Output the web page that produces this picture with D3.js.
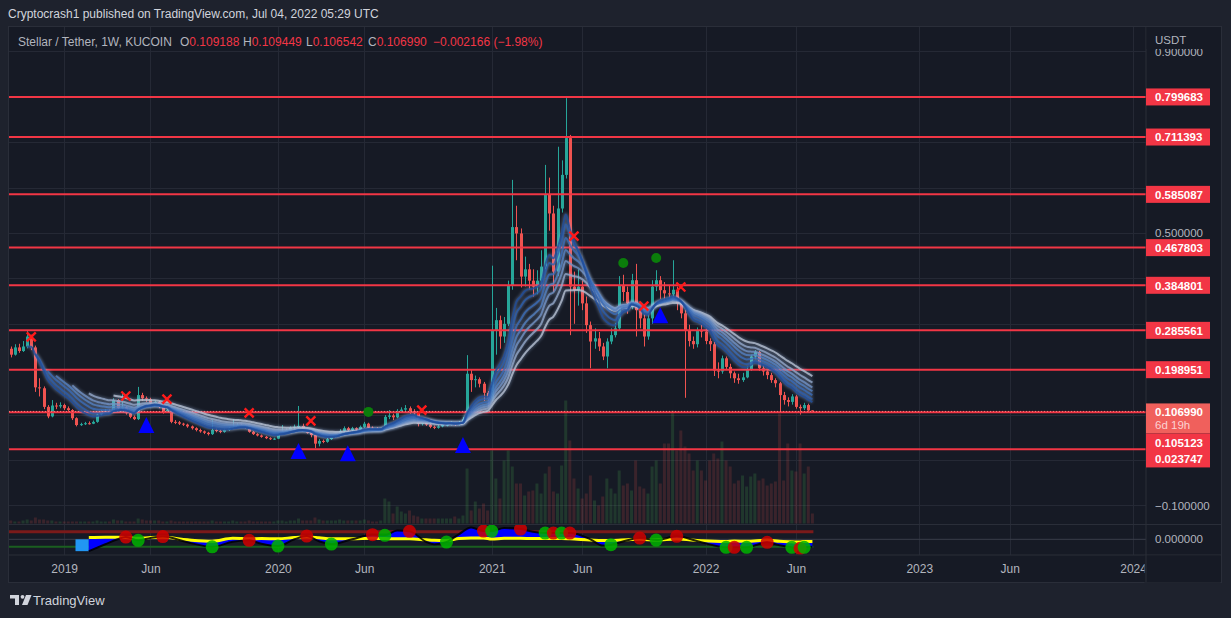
<!DOCTYPE html>
<html>
<head>
<meta charset="utf-8">
<title>Stellar / Tether, 1W, KUCOIN</title>
<script src="https://d3js.org/d3.v7.min.js"></script>
<style>
  body { margin: 0; background: #1e222d; }
  svg { display: block; font-family: "Liberation Sans", Arial, sans-serif; }
</style>
</head>
<body>
<script>
"use strict";

/* weekly candles, first bar opens Monday 2018-10-01 */
var firstWeek = "2018-10-01";
var firstOpen = 0.238;

var closes = [
  0.245,0.232,0.248,0.240,0.250,0.272,0.248,0.160,0.158,0.117,0.096,0.120,0.118,0.121,
  0.114,0.110,0.092,0.077,0.079,0.081,0.080,0.084,0.100,0.106,0.108,0.106,0.132,0.114,
  0.116,0.103,0.095,0.090,0.143,0.136,0.134,0.125,0.128,0.117,0.106,0.110,0.084,0.083,
  0.080,0.078,0.074,0.070,0.066,0.063,0.060,0.057,0.066,0.064,0.062,0.066,0.070,0.073,
  0.077,0.076,0.072,0.062,0.057,0.054,0.051,0.048,0.046,0.047,0.058,0.062,0.066,0.071,
  0.073,0.075,0.068,0.060,0.055,0.036,0.042,0.040,0.046,0.051,0.054,0.064,0.070,0.066,
  0.070,0.067,0.073,0.080,0.071,0.069,0.068,0.068,0.095,0.098,0.094,0.108,0.111,0.114,
  0.108,0.103,0.080,0.082,0.078,0.073,0.071,0.074,0.077,0.078,0.081,0.078,0.082,0.090,
  0.190,0.176,0.178,0.168,0.148,0.135,0.286,0.308,0.272,0.300,0.385,0.513,0.499,0.404,
  0.420,0.395,0.382,0.395,0.426,0.584,0.543,0.415,0.554,0.628,0.709,0.382,0.374,0.382,
  0.345,0.297,0.261,0.268,0.250,0.228,0.261,0.275,0.290,0.385,0.370,0.345,0.396,0.330,
  0.312,0.272,0.312,0.382,0.396,0.374,0.367,0.365,0.375,0.345,0.323,0.286,0.262,0.255,
  0.285,0.283,0.262,0.255,0.197,0.195,0.224,0.205,0.191,0.180,0.176,0.182,0.200,0.228,
  0.238,0.202,0.195,0.187,0.176,0.169,0.143,0.132,0.128,0.140,0.117,0.114,0.121,0.109188,
  0.106990
];

var highs = [
  0.252,0.250,0.255,0.256,0.262,0.285,0.276,0.252,0.180,0.162,0.121,0.132,0.126,0.127,
  0.124,0.118,0.112,0.094,0.082,0.084,0.085,0.087,0.103,0.110,0.112,0.111,0.136,0.134,
  0.150,0.118,0.106,0.098,0.161,0.148,0.140,0.137,0.131,0.130,0.119,0.114,0.111,0.088,
  0.086,0.082,0.080,0.076,0.072,0.069,0.065,0.062,0.088,0.070,0.067,0.069,0.073,0.090,
  0.081,0.080,0.079,0.074,0.064,0.059,0.056,0.053,0.050,0.049,0.062,0.077,0.069,0.074,
  0.078,0.119,0.080,0.070,0.063,0.058,0.046,0.045,0.049,0.054,0.058,0.068,0.074,0.073,
  0.073,0.072,0.076,0.084,0.082,0.074,0.072,0.071,0.099,0.110,0.102,0.112,0.116,0.121,
  0.118,0.112,0.105,0.086,0.084,0.080,0.076,0.077,0.080,0.083,0.085,0.083,0.086,0.095,
  0.231,0.200,0.186,0.182,0.172,0.152,0.428,0.335,0.318,0.315,0.395,0.617,0.560,0.510,
  0.448,0.432,0.420,0.418,0.462,0.650,0.622,0.560,0.690,0.660,0.797,0.716,0.415,0.420,
  0.395,0.360,0.305,0.290,0.282,0.258,0.268,0.290,0.302,0.405,0.408,0.382,0.410,0.432,
  0.345,0.322,0.325,0.396,0.418,0.405,0.392,0.385,0.440,0.382,0.352,0.330,0.298,0.272,
  0.292,0.298,0.290,0.268,0.260,0.215,0.230,0.228,0.212,0.195,0.190,0.192,0.206,0.232,
  0.242,0.240,0.208,0.200,0.192,0.180,0.172,0.150,0.138,0.145,0.143,0.122,0.126,0.124,
  0.109449
];

var lows = [
  0.232,0.226,0.230,0.236,0.238,0.246,0.242,0.150,0.140,0.112,0.092,0.094,0.112,0.114,
  0.110,0.104,0.088,0.074,0.075,0.077,0.078,0.079,0.082,0.098,0.103,0.102,0.104,0.110,
  0.110,0.100,0.092,0.088,0.088,0.130,0.128,0.121,0.122,0.114,0.102,0.104,0.081,0.079,
  0.077,0.075,0.071,0.067,0.063,0.060,0.057,0.054,0.055,0.061,0.059,0.060,0.064,0.068,
  0.071,0.073,0.069,0.060,0.055,0.052,0.049,0.046,0.044,0.044,0.046,0.057,0.060,0.064,
  0.068,0.070,0.066,0.058,0.050,0.026,0.030,0.037,0.038,0.044,0.049,0.052,0.062,0.064,
  0.064,0.064,0.065,0.071,0.069,0.066,0.065,0.066,0.067,0.090,0.088,0.092,0.104,0.108,
  0.102,0.099,0.074,0.076,0.075,0.070,0.068,0.069,0.072,0.074,0.076,0.075,0.076,0.080,
  0.088,0.150,0.160,0.160,0.130,0.118,0.130,0.232,0.245,0.258,0.295,0.375,0.440,0.380,
  0.382,0.375,0.360,0.365,0.378,0.420,0.505,0.370,0.405,0.545,0.620,0.275,0.300,0.340,
  0.330,0.280,0.202,0.245,0.240,0.220,0.202,0.255,0.270,0.285,0.350,0.322,0.332,0.272,
  0.290,0.250,0.265,0.300,0.372,0.355,0.352,0.350,0.355,0.330,0.312,0.137,0.250,0.245,
  0.248,0.270,0.255,0.240,0.185,0.180,0.190,0.198,0.180,0.170,0.168,0.172,0.180,0.196,
  0.222,0.196,0.186,0.178,0.170,0.160,0.106,0.122,0.118,0.122,0.113,0.100,0.110,0.104,
  0.106542
];

var volumes = [
  3,3,2,2,3,4,3,6,4,4,3,3,2,2,
  2,2,2,2,2,2,2,2,3,2,2,2,4,3,3,2,2,2,5,4,3,3,3,3,2,2,
  3,2,2,2,2,2,2,2,2,2,3,2,2,2,2,3,2,2,2,3,2,2,2,2,2,2,
  3,3,2,3,3,5,3,3,3,6,4,3,3,3,3,4,3,3,3,3,3,4,3,2,2,3,
  25,22,10,17,12,10,13,8,7,5,5,5,5,5,5,5,5,7,5,8,
  55,13,22,15,20,13,73,45,25,63,73,57,40,40,28,32,33,40,30,50,57,32,30,58,
  123,83,45,35,25,30,48,23,18,27,45,35,30,53,38,40,33,63,37,35,30,57,63,40,
  80,80,113,73,93,77,70,53,63,53,43,63,70,65,82,63,57,40,43,48,37,47,50,43,
  45,38,40,42,110,43,80,53,52,80,50,57,10
];

/* horizontal levels drawn on the chart */
var levels = [0.799683, 0.711393, 0.585087, 0.467803, 0.384801, 0.285561, 0.198951, 0.105123, 0.023747];
var lastPrice = 0.106990;
var lastCountdown = "6d 19h";
var priceTicks = [-0.1, 0, 0.1, 0.2, 0.3, 0.4, 0.5, 0.6, 0.7, 0.8, 0.9];

/* EMA ribbon lengths and first visible bar of each */
var ribbonLengths = [9, 11, 14, 17, 20, 24, 30];
var ribbonStart = [5, 7, 10, 12, 16, 20, 26];
var ribbonColors = ["#1f4c9a", "#2a5cac", "#3a6cb8", "#527fc0", "#7091c4", "#92a6c8", "#b6c0d2"];

/* signal shapes: bar index + price */
var crossWeeks = [6, 29, 39, 59, 74, 101, 138, 155, 164];
var crossPrices = [0.271, 0.141, 0.134, 0.104, 0.086, 0.110, 0.493, 0.339, 0.381];
var dotWeeks = [88, 150, 158];
var dotPrices = [0.106, 0.434, 0.445];
var triWeeks = [34, 71, 83, 111, 159];
var triPrices = [0.077, 0.020, 0.015, 0.033, 0.319];

/* lower oscillator pane */
var oscStartWeek = 17;
var oscWeeks = [20,24,27,29,32,35,38,44,50,55,59,62,66,70,73,76,79,84,89,92,95,98,102,104,107,110,113,116,118,121,125,128,131,133,135,137,142,145,147,151,154,158,163,169,175,177,180,185,188,191,193,194,196];
var oscFast  = [-95,-40,0,18,-8,10,22,-24,-60,-20,-8,-36,-54,0,26,-16,-38,0,37,32,70,64,-20,-40,-22,40,95,66,66,90,82,60,50,50,50,50,0,-50,-43,-8,10,-6,24,-24,-64,-64,-64,-24,-48,-64,-72,-64,-60];
var oscSlow  = [14,16,16,14,8,14,16,-4,-16,8,4,6,4,14,18,12,4,4,8,6,4,4,-4,-8,-10,6,10,10,2,8,8,6,6,6,6,4,-6,-10,-10,-4,0,-6,2,-12,-18,-14,-16,-6,-16,-20,-22,-18,-18];
var oscSignal = ["","","","r","g","","r","","g","","r","","g","","r","","g","","r","g","","r","","","g","","","r","g","","r","","g","r","g","r","","","g","","r","g","r","","g","r","g","r","","g","r","g",""];
var oscLevels = [60, -60];

var W = 1231, H = 618;
var padLeft = 9, padRight = 1146, paneTop = 27, mainBottom = 524.5, oscTop = 524.5, oscBottom = 555, frameBottom = 582.5;

var parseDay = d3.utcParse("%Y-%m-%d");
var week0 = parseDay(firstWeek);
var n = closes.length;
var bars = closes.map(function (c, i) {
  return {
    t: d3.utcDay.offset(week0, 7 * i),
    o: i ? closes[i - 1] : firstOpen,
    h: highs[i], l: lows[i], c: c, v: volumes[i]
  };
});

var x = d3.scaleUtc().domain([bars[0].t, bars[n - 1].t]).range([6.6, 812.4]);
var y = d3.scaleLinear().domain([-0.1, 0.9]).range([505.4, 51.4]);
var yVol = d3.scaleLinear().domain([0, 130]).range([523.5, 393.5]);
var yOsc = d3.scaleLinear().domain([-125, 125]).range([554.9, 523.7]);
function xi(i) { return x(d3.utcDay.offset(week0, 7 * i)); }

var svg = d3.select("body").append("svg").attr("width", W).attr("height", H);

svg.append("rect").attr("width", W).attr("height", H).attr("fill", "#1e222d");
svg.append("text").attr("x", 8).attr("y", 18).attr("fill", "#d1d4dc").style("font-size", "12px")
  .text("Cryptocrash1 published on TradingView.com, Jul 04, 2022 05:29 UTC");

svg.append("rect").attr("x", 8.5).attr("y", 26.5).attr("width", 1213).attr("height", frameBottom - 26.5)
  .attr("fill", "#161a25").attr("stroke", "#2a2e39");

var defs = svg.append("defs");
defs.append("clipPath").attr("id", "mainClip").append("rect")
  .attr("x", padLeft).attr("y", paneTop).attr("width", padRight - padLeft).attr("height", mainBottom - paneTop);
defs.append("clipPath").attr("id", "oscClip").append("rect")
  .attr("x", padLeft).attr("y", oscTop).attr("width", padRight - padLeft).attr("height", oscBottom - oscTop);
defs.append("filter").attr("id", "glow").attr("x", "-5%").attr("y", "-20%").attr("width", "110%").attr("height", "140%")
  .append("feGaussianBlur").attr("stdDeviation", 1.5);

/* time ticks: first weekly bar of January and June */
var tickDates = [];
[2019, 2020, 2021, 2022, 2023, 2024].forEach(function (yr) {
  [0, 5].forEach(function (m) { tickDates.push(d3.utcMonday.ceil(new Date(Date.UTC(yr, m, 1)))); });
});

// grid
var grid = svg.append("g");
grid.selectAll(".vg").data(tickDates.filter(function (d) { return x(d) < padRight; })).enter().append("line")
  .attr("x1", function (d) { return Math.round(x(d)) + 0.5; }).attr("x2", function (d) { return Math.round(x(d)) + 0.5; })
  .attr("y1", paneTop).attr("y2", oscBottom).attr("stroke", "#252935");
grid.selectAll(".hg").data(priceTicks).enter().append("line")
  .attr("x1", padLeft).attr("x2", padRight)
  .attr("y1", function (d) { return Math.round(y(d)) + 0.5; }).attr("y2", function (d) { return Math.round(y(d)) + 0.5; })
  .attr("stroke", "#252935");
grid.append("line").attr("x1", padLeft).attr("x2", padRight).attr("y1", yOsc(0)).attr("y2", yOsc(0)).attr("stroke", "#3a3e4a");

var main = svg.append("g").attr("clip-path", "url(#mainClip)");

// volume
main.append("g").selectAll("rect").data(bars).enter().append("rect")
  .attr("x", function (d) { return x(d.t) - 1.5; }).attr("width", 3)
  .attr("y", function (d) { return yVol(d.v); })
  .attr("height", function (d) { return yVol(0) - yVol(d.v); })
  .attr("fill", function (d) { return d.c >= d.o ? "rgba(76,175,80,0.2)" : "rgba(239,83,80,0.17)"; });

// candles
var candle = main.append("g").selectAll("g").data(bars).enter().append("g");
candle.append("line")
  .attr("x1", function (d) { return Math.round(x(d.t)) + 0.5; }).attr("x2", function (d) { return Math.round(x(d.t)) + 0.5; })
  .attr("y1", function (d) { return y(d.h); }).attr("y2", function (d) { return y(d.l); })
  .attr("stroke", function (d) { return d.c >= d.o ? "#26a69a" : "#ef5350"; });
candle.append("rect")
  .attr("x", function (d) { return Math.round(x(d.t)) - 1; }).attr("width", 3)
  .attr("y", function (d) { return y(Math.max(d.o, d.c)); })
  .attr("height", function (d) { return Math.max(1, Math.abs(y(d.o) - y(d.c))); })
  .attr("fill", function (d) { return d.c >= d.o ? "#26a69a" : "#ef5350"; });

// level lines
main.append("g").selectAll("line").data(levels).enter().append("line")
  .attr("x1", padLeft).attr("x2", padRight)
  .attr("y1", function (d) { return y(d); }).attr("y2", function (d) { return y(d); })
  .attr("stroke", "#f23645").attr("stroke-width", 2);
main.append("line").attr("x1", padLeft).attr("x2", padRight).attr("y1", y(lastPrice)).attr("y2", y(lastPrice))
  .attr("stroke", "#f7807d").attr("stroke-dasharray", "1,2");

// EMA ribbon
var ribbons = ribbonLengths.map(function (len, k) {
  var a = 2 / (len + 1), e = closes[0], pts = [];
  closes.forEach(function (c, i) {
    e = i ? a * c + (1 - a) * e : c;
    if (i >= ribbonStart[k]) pts.push([i, e]);
  });
  return pts;
});
var ribLine = d3.line().x(function (d) { return xi(d[0]); }).y(function (d) { return y(d[1]); }).curve(d3.curveMonotoneX);
var rib = main.append("g");
rib.selectAll(".glow").data(ribbons).enter().append("path")
  .attr("d", ribLine).attr("fill", "none").attr("stroke", "#b4d2ff").attr("stroke-width", 3.5)
  .attr("opacity", 0.3).attr("filter", "url(#glow)");
rib.selectAll(".core").data(ribbons.slice().reverse()).enter().append("path")
  .attr("d", ribLine).attr("fill", "none")
  .attr("stroke", function (d, i) { return ribbonColors[ribbonColors.length - 1 - i]; })
  .attr("stroke-width", 2).attr("opacity", 0.8);

// signal shapes
var marks = svg.append("g").attr("clip-path", "url(#mainClip)");
crossWeeks.forEach(function (w, i) {
  var cx = xi(w), cy = y(crossPrices[i]);
  marks.append("path").attr("d", "M" + (cx - 4.5) + "," + (cy - 4.5) + "L" + (cx + 4.5) + "," + (cy + 4.5) +
    "M" + (cx + 4.5) + "," + (cy - 4.5) + "L" + (cx - 4.5) + "," + (cy + 4.5))
    .attr("stroke", "#ff1a1a").attr("stroke-width", 2.4);
});
dotWeeks.forEach(function (w, i) {
  marks.append("circle").attr("cx", xi(w)).attr("cy", y(dotPrices[i])).attr("r", 5).attr("fill", "#0b7d0b");
});
triWeeks.forEach(function (w, i) {
  var cx = xi(w), cy = y(triPrices[i]);
  marks.append("path").attr("d", "M" + cx + "," + (cy - 8) + "L" + (cx + 8) + "," + (cy + 8) + "L" + (cx - 8) + "," + (cy + 8) + "Z")
    .attr("fill", "#0000ff");
});

// oscillator pane
var osc = svg.append("g").attr("clip-path", "url(#oscClip)");
var oscPts = oscWeeks.map(function (w, i) { return { w: w, f: oscFast[i], s: oscSlow[i], g: oscSignal[i] }; });
var oscEnd = xi(n - 1) + 1;
osc.append("line").attr("x1", padLeft).attr("x2", oscEnd).attr("y1", yOsc(oscLevels[0])).attr("y2", yOsc(oscLevels[0]))
  .attr("stroke", "#7a1a1a").attr("stroke-width", 3);
osc.append("line").attr("x1", padLeft).attr("x2", oscEnd).attr("y1", yOsc(oscLevels[1])).attr("y2", yOsc(oscLevels[1]))
  .attr("stroke", "#1b5e20").attr("stroke-width", 2);
osc.append("rect").attr("x", xi(oscStartWeek) - 1).attr("y", yOsc(0))
  .attr("width", xi(oscWeeks[0]) - xi(oscStartWeek) + 1).attr("height", yOsc(oscFast[0]) - yOsc(0))
  .attr("fill", "#2196f3");
osc.append("path").datum(oscPts)
  .attr("d", d3.area().x(function (d) { return xi(d.w); }).y0(function (d) { return yOsc(d.s); }).y1(function (d) { return yOsc(d.f); }).curve(d3.curveMonotoneX))
  .attr("fill", "#0000ff");
osc.append("path").datum(oscPts)
  .attr("d", d3.line().x(function (d) { return xi(d.w); }).y(function (d) { return yOsc(d.s); }).curve(d3.curveMonotoneX))
  .attr("fill", "none").attr("stroke", "#ffff00").attr("stroke-width", 3);
osc.append("path").datum(oscPts)
  .attr("d", d3.line().x(function (d) { return xi(d.w); }).y(function (d) { return yOsc(d.f); }).curve(d3.curveMonotoneX))
  .attr("fill", "none").attr("stroke", "#000").attr("stroke-width", 2).attr("opacity", 0.85);
osc.selectAll(".sig").data(oscPts.filter(function (d) { return d.g; })).enter().append("circle")
  .attr("cx", function (d) { return xi(d.w); }).attr("cy", function (d) { return yOsc(d.f); }).attr("r", 6.5)
  .attr("fill", function (d) { return d.g === "r" ? "#d00000" : "#00b400"; }).attr("opacity", 0.85);

// pane borders
svg.append("line").attr("x1", padLeft).attr("x2", 1221).attr("y1", oscTop).attr("y2", oscTop).attr("stroke", "#2a2e39");
svg.append("line").attr("x1", padLeft).attr("x2", 1221).attr("y1", oscBottom).attr("y2", oscBottom).attr("stroke", "#2a2e39");
svg.append("line").attr("x1", padRight).attr("x2", padRight).attr("y1", paneTop).attr("y2", frameBottom).attr("stroke", "#2a2e39");

// price axis: labels that sit under a level tag are not shown
var tagYs = levels.map(function (d) { return y(d); }).concat([y(lastPrice) + 15, y(lastPrice) + 47]);
var shownTicks = priceTicks.filter(function (t) {
  return tagYs.every(function (ty) { return Math.abs(ty - y(t)) > 13; });
});
var pAxis = svg.append("g").attr("transform", "translate(" + padRight + ",0)")
  .call(d3.axisRight(y).tickValues(shownTicks).tickFormat(d3.format(".6f")).tickSize(0).tickPadding(9));
pAxis.select(".domain").remove();
pAxis.selectAll("text").attr("fill", "#b2b5be").style("font-size", "11.5px").style("font-family", "Liberation Sans, Arial, sans-serif");

var oAxis = svg.append("g").attr("transform", "translate(" + padRight + ",0)")
  .call(d3.axisRight(yOsc).tickValues([0]).tickFormat(d3.format(".6f")).tickSize(0).tickPadding(9));
oAxis.select(".domain").remove();
oAxis.selectAll("text").attr("fill", "#b2b5be").style("font-size", "11.5px").style("font-family", "Liberation Sans, Arial, sans-serif");

svg.append("rect").attr("x", padRight + 0.5).attr("y", 27).attr("width", 74).attr("height", 22).attr("fill", "#161a25");
svg.append("text").attr("x", 1155).attr("y", 44).attr("fill", "#b2b5be").style("font-size", "11.5px").text("USDT");

// level labels
var tagLevels = levels.filter(function (d) { return d > 0.15; });
var tags = svg.append("g").selectAll("g").data(tagLevels).enter().append("g")
  .attr("transform", function (d) { return "translate(" + padRight + "," + y(d) + ")"; });
tags.append("rect").attr("x", 0).attr("y", -8.5).attr("width", 64).attr("height", 17).attr("fill", "#f23645");
tags.append("text").attr("x", 9).attr("y", 4.2).attr("fill", "#fff").style("font-size", "11.5px").style("font-weight", "bold")
  .text(function (d) { return d3.format(".6f")(d); });

var ly = y(lastPrice);
svg.append("rect").attr("x", padRight).attr("y", ly - 8).attr("width", 64).attr("height", 30).attr("fill", "#f0605c");
svg.append("text").attr("x", padRight + 9).attr("y", ly + 4.2).attr("fill", "#fff").style("font-size", "11.5px").style("font-weight", "bold")
  .text(d3.format(".6f")(lastPrice));
svg.append("text").attr("x", padRight + 9).attr("y", ly + 18).attr("fill", "#fcd2d2").style("font-size", "11.5px")
  .text(lastCountdown);
var stack = levels.filter(function (d) { return d < 0.15; });
svg.append("rect").attr("x", padRight).attr("y", ly + 22).attr("width", 64).attr("height", 34).attr("fill", "#f23645");
stack.forEach(function (d, i) {
  svg.append("text").attr("x", padRight + 9).attr("y", ly + 35.5 + i * 16.5).attr("fill", "#fff")
    .style("font-size", "11.5px").style("font-weight", "bold").text(d3.format(".6f")(d));
});

// time axis
var tAxis = svg.append("g").attr("transform", "translate(0," + oscBottom + ")")
  .call(d3.axisBottom(x).tickValues(tickDates).tickSize(0).tickPadding(9)
    .tickFormat(function (d) { return d.getUTCMonth() === 0 ? d3.utcFormat("%Y")(d) : d3.utcFormat("%b")(d); }));
tAxis.select(".domain").remove();
tAxis.selectAll("text").attr("fill", "#b2b5be").style("font-size", "12px").style("font-family", "Liberation Sans, Arial, sans-serif");
tAxis.selectAll(".tick").filter(function (d) { return x(d) > padRight + 20; }).remove();
svg.append("rect").attr("x", padRight - 1.5).attr("y", oscBottom + 0.5).attr("width", 76).attr("height", 27).attr("fill", "#161a25");
svg.append("line").attr("x1", padRight).attr("x2", padRight).attr("y1", oscBottom).attr("y2", frameBottom).attr("stroke", "#2a2e39");

// legend
var leg = svg.append("text").attr("x", 18).attr("y", 46).style("font-size", "12px").attr("fill", "#b2b5be");
leg.append("tspan").text("Stellar / Tether, 1W, KUCOIN");
[["O", 180, 0.109188], ["H", 243, 0.109449], ["L", 306, 0.106542], ["C", 368, 0.106990]].forEach(function (p) {
  leg.append("tspan").attr("x", p[1]).attr("fill", "#b2b5be").text(p[0]);
  leg.append("tspan").attr("fill", "#f23645").text(d3.format(".6f")(p[2]));
});
leg.append("tspan").attr("x", 433).attr("fill", "#f23645").text("\u22120.002166 (\u22121.98%)");

// footer logo
var logo = svg.append("g").attr("fill", "#d1d4dc");
logo.append("path").attr("d", "M10,595h9v10h-4v-6.5h-5z");
logo.append("circle").attr("cx", 22.5).attr("cy", 596.8).attr("r", 1.9);
logo.append("path").attr("d", "M26,595h5.5l-4,10h-5.5z");
svg.append("text").attr("x", 33).attr("y", 605).attr("fill", "#d1d4dc").style("font-size", "13px").text("TradingView");
</script>
</body>
</html>
